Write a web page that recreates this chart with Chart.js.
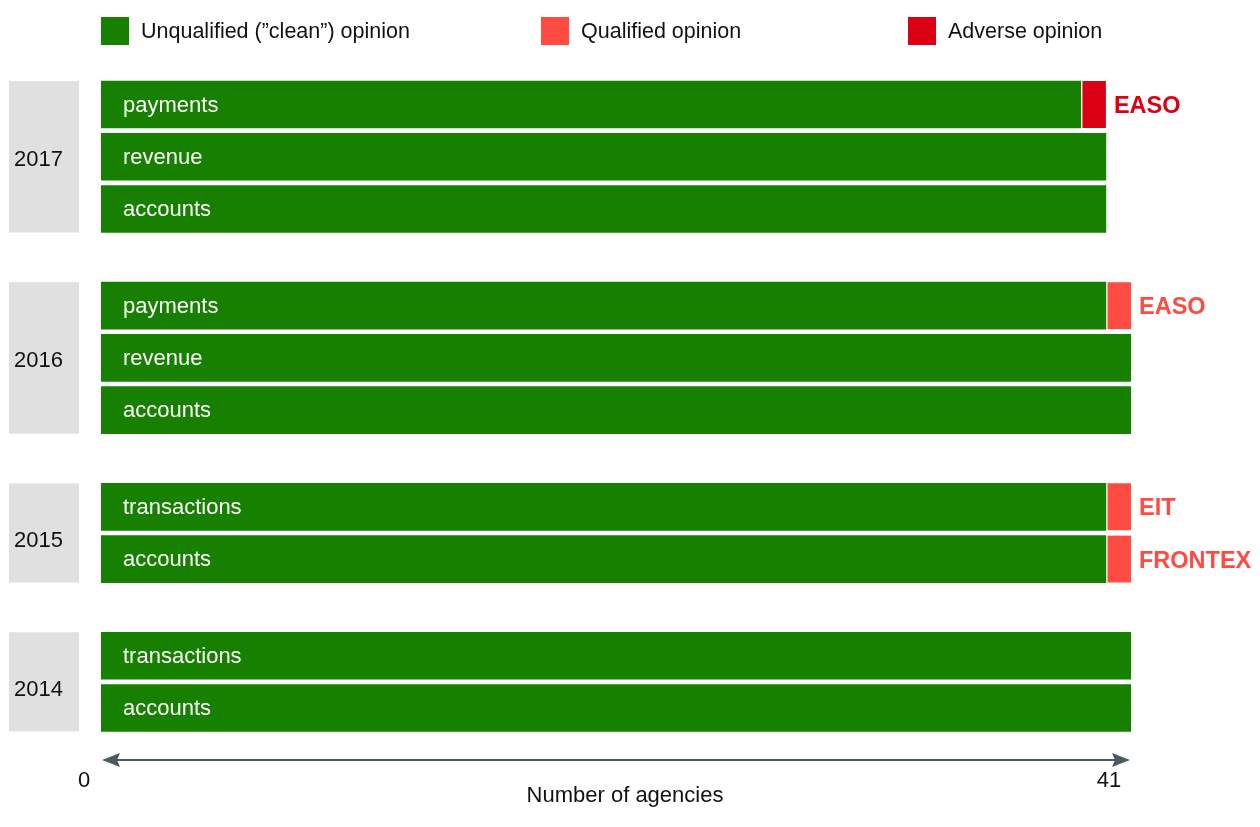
<!DOCTYPE html>
<html>
<head>
<meta charset="utf-8">
<script src="https://cdn.jsdelivr.net/npm/chart.js@4/dist/chart.umd.min.js"></script>
<style>
html,body{margin:0;padding:0;background:#fff}
#wrap{position:relative;width:1260px;height:827px}
</style>
</head>
<body>
<div id="wrap"><canvas id="c" width="1260" height="827"></canvas></div>
<script>
// data, one entry per bar row (top to bottom)
const rowYear=['2017','2017','2017','2016','2016','2016','2015','2015','2014','2014'];
const rowNames=['payments','revenue','accounts','payments','revenue','accounts','transactions','accounts','transactions','accounts'];
const cleanVals=[39,40,40,40,41,41,40,40,41,41];
const qualifiedVals=[0,0,0,1,0,0,1,1,0,0];
const adverseVals=[1,0,0,0,0,0,0,0,0,0];
const agencyNotes=['EASO','','','EASO','','','EIT','FRONTEX','',''];
const seriesNames=['Unqualified (\u201dclean\u201d) opinion','Qualified opinion','Adverse opinion'];
const xTicks=[0,41];
const xTitle='Number of agencies';

const GREEN='#178000', QUAL='#ff4c42', ADV='#dc0014';
const FONT='"Liberation Sans", Arial, sans-serif';

// row positions on the y scale: groups separated by a smaller gap
const GROUP_GAP=0.85;
const rowPos=[]; {let g=0;for(let i=0;i<rowYear.length;i++){if(i>0&&rowYear[i]!==rowYear[i-1])g++;rowPos.push(i+g*GROUP_GAP)}}

function pts(vals){return vals.map((v,i)=>({x:v||null,y:rowPos[i]}))}

const extras={
  id:'extras',
  beforeDatasetsDraw(chart){
    const {ctx}=chart, y=chart.scales.y;
    const half=23.5;
    // grey year boxes
    const years=[...new Set(rowYear)];
    ctx.save();
    for(const yr of years){
      const idx=rowYear.map((r,i)=>r===yr?i:-1).filter(i=>i>=0);
      const top=y.getPixelForValue(rowPos[idx[0]])-half;
      const bot=y.getPixelForValue(rowPos[idx[idx.length-1]])+half;
      ctx.fillStyle='#e0e0e0';
      ctx.fillRect(9,top,70,bot-top);
      ctx.fillStyle='#111';
      ctx.font='22px '+FONT;
      ctx.textBaseline='middle';ctx.textAlign='left';
      ctx.fillText(yr,14,(top+bot)/2+(idx.length<3?8:3));
    }
    ctx.restore();
  },
  afterDatasetsDraw(chart){
    const {ctx}=chart, x=chart.scales.x, y=chart.scales.y;
    ctx.save();
    ctx.textBaseline='middle';
    rowNames.forEach((n,i)=>{
      const py=y.getPixelForValue(rowPos[i]);
      ctx.fillStyle='#fff';ctx.font='22px '+FONT;ctx.textAlign='left';
      ctx.fillText(n,x.getPixelForValue(0)+22,py+1);
      if(agencyNotes[i]){
        const total=cleanVals[i]+qualifiedVals[i]+adverseVals[i];
        ctx.fillStyle=adverseVals[i]?ADV:QUAL;
        ctx.font='bold 23.5px '+FONT;
        ctx.fillText(agencyNotes[i],x.getPixelForValue(total)+8,py+2);
      }
    });
    // double arrow axis
    const x0=x.getPixelForValue(xTicks[0]), x1=x.getPixelForValue(xTicks[1]);
    const ay=chart.chartArea.bottom+26;
    ctx.strokeStyle='#4b5a5e';ctx.fillStyle='#4b5a5e';ctx.lineWidth=2;
    ctx.beginPath();ctx.moveTo(x0+8,ay);ctx.lineTo(x1-8,ay);ctx.stroke();
    ctx.beginPath();ctx.moveTo(x0+1,ay);ctx.lineTo(x0+19,ay-7);ctx.lineTo(x0+16,ay);ctx.lineTo(x0+19,ay+7);ctx.closePath();ctx.fill();
    ctx.beginPath();ctx.moveTo(x1-1,ay);ctx.lineTo(x1-19,ay-7);ctx.lineTo(x1-16,ay);ctx.lineTo(x1-19,ay+7);ctx.closePath();ctx.fill();
    ctx.fillStyle='#111';ctx.font='22px '+FONT;ctx.textAlign='center';
    ctx.fillText(String(xTicks[0]),x0-17,ay+21);
    ctx.fillText(String(xTicks[1]),x1-22,ay+21);
    ctx.fillText(xTitle,(x0+x1)/2+9,ay+36);
    // legend
    const legX=[101,541,908], cols=[GREEN,QUAL,ADV];
    seriesNames.forEach((s,i)=>{
      ctx.fillStyle=cols[i];ctx.fillRect(legX[i],17,28,28);
      ctx.fillStyle='#111';ctx.textAlign='left';ctx.font='21.5px '+FONT;
      ctx.fillText(s,legX[i]+40,32);
    });
    ctx.restore();
  }
};

const segBorder={left:2,right:0,top:0,bottom:0};
new Chart(document.getElementById('c'),{
  type:'bar',
  data:{datasets:[
    {label:seriesNames[0],data:pts(cleanVals),backgroundColor:GREEN,barThickness:47,borderWidth:0},
    {label:seriesNames[1],data:pts(qualifiedVals),backgroundColor:QUAL,barThickness:47,borderColor:'#fff',borderWidth:segBorder,borderSkipped:false},
    {label:seriesNames[2],data:pts(adverseVals),backgroundColor:ADV,barThickness:47,borderColor:'#fff',borderWidth:segBorder,borderSkipped:false}
  ]},
  options:{
    indexAxis:'y',
    responsive:false,animation:false,
    layout:{padding:{left:101,right:129,top:78.4,bottom:92.9}},
    scales:{
      x:{type:'linear',min:0,max:41,stacked:true,display:false,offset:false},
      y:{type:'linear',min:-0.5,max:rowPos[rowPos.length-1]+0.5,reverse:true,stacked:true,display:false,offset:false}
    },
    plugins:{legend:{display:false},tooltip:{enabled:false}}
  },
  plugins:[extras]
});
</script>
</body>
</html>
